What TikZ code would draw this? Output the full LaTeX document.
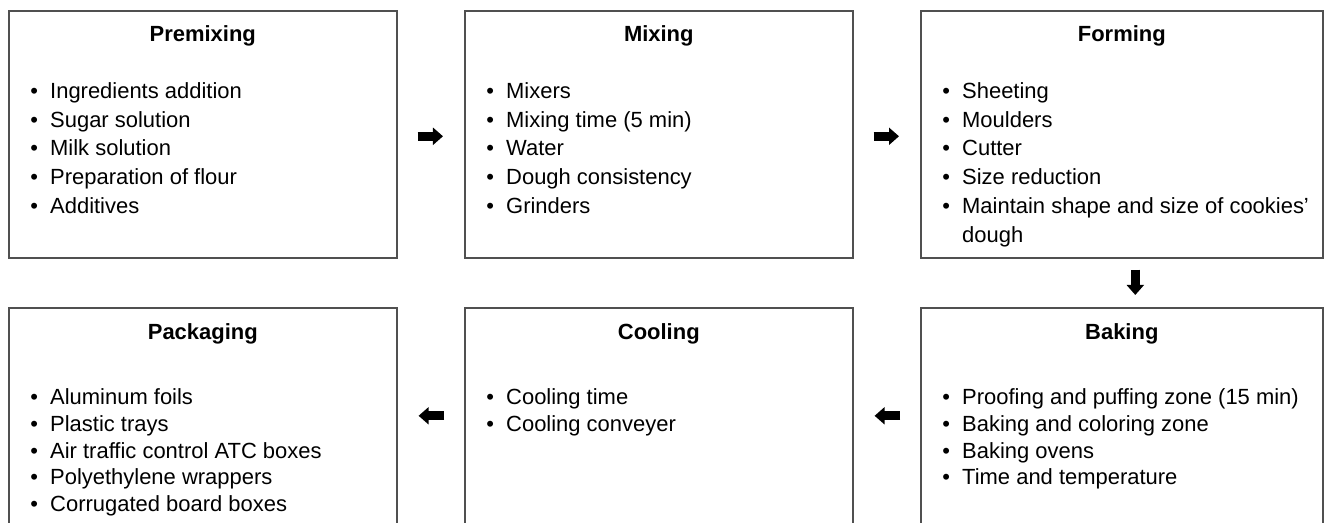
\documentclass[tikz,border=0pt]{standalone}
\usepackage{fontspec}
\setmainfont{Liberation Sans}
\usetikzlibrary{arrows.meta,positioning,calc}
\definecolor{boxline}{RGB}{80,80,80}

\newcommand{\itm}{\makebox[11.3pt][l]{\textbullet}}
\newcommand{\cnt}{\makebox[11.3pt][l]{}}

\begin{document}
\begin{tikzpicture}[x=0.02cm, y=-0.02cm, font=\fontsize{12.5}{16.4}\selectfont,
  stage/.style={draw=boxline, line width=0.9pt, anchor=north west, inner sep=0pt},
  ttl/.style={font=\fontsize{12.5}{16.4}\selectfont\bfseries},
  lst/.style={anchor=north west, align=left, inner sep=0pt},
  lstlow/.style={lst, font=\fontsize{12.5}{15.3}\selectfont},
  bigarrow/.style={line width=5.1pt, -{Triangle[length=5.7pt, width=9.6pt]}}]
  \def\wa{388}\def\wb{402}
  \def\ha{247}\def\hb{240}
  \useasboundingbox (0,0) rectangle (1324,523);
  \clip (0,0) rectangle (1324,523);

  % ===== top row =====
  \node[stage, minimum width=\wa*0.02cm, minimum height=\ha*0.02cm] (premix) at (8,10) {};
  \node[stage, minimum width=\wa*0.02cm, minimum height=\ha*0.02cm] (mixing) at (464,10) {};
  \node[stage, minimum width=\wb*0.02cm, minimum height=\ha*0.02cm] (forming) at (920,10) {};

  \node[ttl] (premixT) at ($(premix.north)+(0,26)$) {Premixing};
  \node[ttl] (mixingT) at ($(mixing.north)+(0,26)$) {Mixing};
  \node[ttl] (formingT) at ($(forming.north)+(0,26)$) {Forming};

  \node[lst] (premixL) at ($(premix.north west)+(22,72)$) {%
    \itm Ingredients addition\\ \itm Sugar solution\\ \itm Milk solution\\
    \itm Preparation of flour\\ \itm Additives};
  \node[lst] (mixingL) at ($(mixing.north west)+(22,72)$) {%
    \itm Mixers\\ \itm Mixing time (5 min)\\ \itm Water\\
    \itm Dough consistency\\ \itm Grinders};
  \node[lst] (formingL) at ($(forming.north west)+(22,72)$) {%
    \itm Sheeting\\ \itm Moulders\\ \itm Cutter\\ \itm Size reduction\\
    \itm Maintain shape and size of cookies'\\ \cnt dough};

  % ===== bottom row (runs off the page) =====
  \node[stage, minimum width=\wa*0.02cm, minimum height=\hb*0.02cm] (packaging) at (8,307) {};
  \node[stage, minimum width=\wa*0.02cm, minimum height=\hb*0.02cm] (cooling) at (464,307) {};
  \node[stage, minimum width=\wb*0.02cm, minimum height=\hb*0.02cm] (baking) at (920,307) {};

  \node[ttl] (packagingT) at ($(packaging.north)+(0,27)$) {Packaging};
  \node[ttl] (coolingT) at ($(cooling.north)+(0,27)$) {Cooling};
  \node[ttl] (bakingT) at ($(baking.north)+(0,27)$) {Baking};

  \node[lstlow] (packagingL) at ($(packaging.north west)+(22,81)$) {%
    \itm Aluminum foils\\ \itm Plastic trays\\ \itm Air traffic control ATC boxes\\
    \itm Polyethylene wrappers\\ \itm Corrugated board boxes};
  \node[lstlow] (coolingL) at ($(cooling.north west)+(22,81)$) {%
    \itm Cooling time\\ \itm Cooling conveyer};
  \node[lstlow] (bakingL) at ($(baking.north west)+(22,81)$) {%
    \itm Proofing and puffing zone (15 min)\\ \itm Baking and coloring zone\\
    \itm Baking ovens\\ \itm Time and temperature};

  % ===== block arrows =====
  \draw[bigarrow] ($(premix.east)+(20,2)$) -- ($(mixing.west)+(-21,2)$);
  \draw[bigarrow] ($(mixing.east)+(20,2)$) -- ($(forming.west)+(-21,2)$);
  \draw[bigarrow] ($(forming.south)+(13.5,11)$) -- ($(baking.north)+(13.5,-12)$);
  \draw[bigarrow] ($(baking.west)+(-20,-12)$) -- ($(cooling.east)+(21,-12)$);
  \draw[bigarrow] ($(cooling.west)+(-20,-12)$) -- ($(packaging.east)+(21,-12)$);
\end{tikzpicture}
\end{document}
